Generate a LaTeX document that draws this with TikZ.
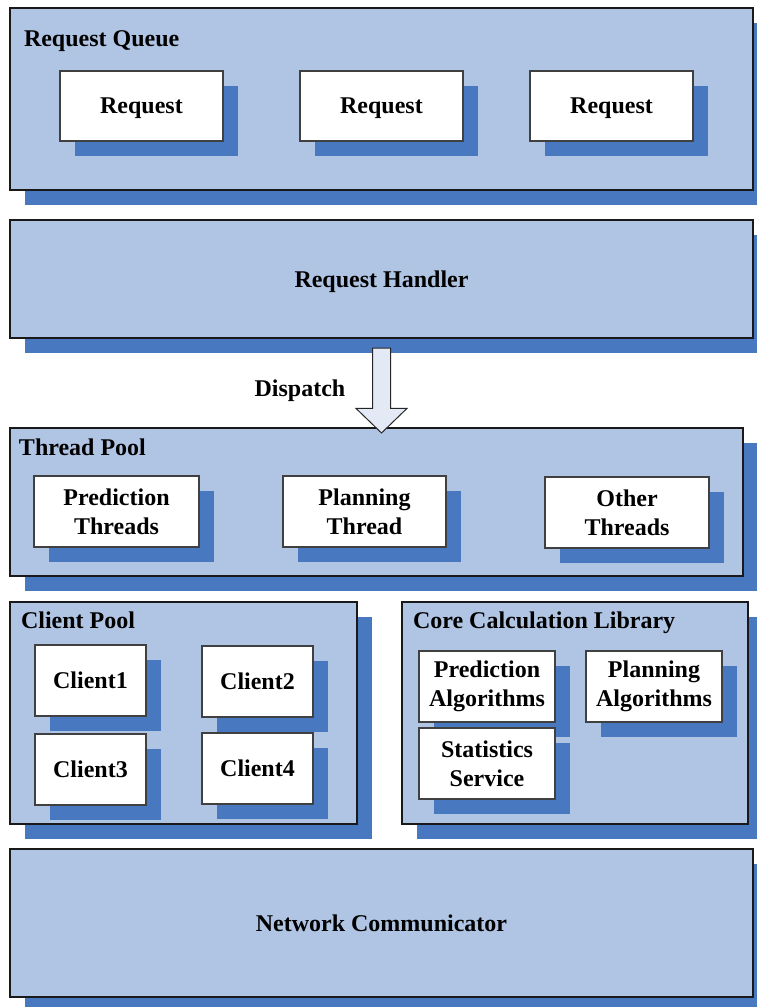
\documentclass[tikz,border=0pt]{standalone}
\usepackage{fontspec}
\setmainfont{Liberation Serif}
\usepackage{tikz}
\usepackage{xcolor}
\usetikzlibrary{shadows,shapes.arrows}
\definecolor{panel}{HTML}{B0C5E4}
\definecolor{shade}{HTML}{4878C0}
\definecolor{arrowfill}{HTML}{E4EAF5}

\begin{document}
\begin{tikzpicture}[x=1pt,y=-1pt,
    every node/.style={font=\fontsize{24}{29}\selectfont\bfseries,inner sep=0pt,outer sep=0pt},
    boxshadow/.style={general shadow={shadow xshift=15pt,shadow yshift=-15pt,fill=shade,draw=none}},
    layer/.style={draw=black!90,line width=1.2pt,fill=panel,boxshadow},
    item/.style={draw=black!75,line width=1.2pt,fill=white,boxshadow,align=center,minimum height=71pt}]
            \useasboundingbox (0,0) rectangle (757,1007);
            \clip (0,0) rectangle (757,1007);
            \node[layer,minimum width=743pt,minimum height=182pt] (queue) at (381.5,99) {};
            \node[anchor=base west] (queuetitle) at (24,46) {Request Queue};
            \node[item,minimum width=163pt,minimum height=70pt,text depth=0pt] (req1) at (141.5,106) {Request};
            \node[item,minimum width=163pt,minimum height=70pt,text depth=0pt] (req2) at (381.5,106) {Request};
            \node[item,minimum width=163pt,minimum height=70pt,text depth=0pt] (req3) at (611.5,106) {Request};
            \node[layer,minimum width=743pt,minimum height=118pt,text depth=0pt] (handler) at (381.5,279) {Request Handler};
            \node[layer,minimum width=733pt,minimum height=148pt] (pool) at (376.5,502) {};
            \node[anchor=base west] (pooltitle) at (19,455) {Thread Pool};
            \node[item,minimum width=165pt] (predthr) at (116.5,511.5) {Prediction\\Threads};
            \node[item,minimum width=163pt] (planthr) at (364.5,511.5) {Planning\\Thread};
            \node[item,minimum width=164pt] (oththr) at (627,512.5) {Other\\Threads};
            \node[draw=black!85,line width=1pt,fill=arrowfill,single arrow,rotate=-90,anchor=tip,
                minimum height=85pt,inner sep=8.5pt,single arrow head extend=16.5pt,
                single arrow tip angle=92] (dispatch) at (381.5,433) {};
            \node[text depth=0pt] (dispatchlabel) at (300,388) {Dispatch};
            \node[layer,minimum width=347pt,minimum height=222pt] (clients) at (183.5,713) {};
            \node[anchor=base west] (clientstitle) at (21,628) {Client Pool};
            \node[item,minimum width=111pt] (c1) at (90.5,680.5) {Client1};
            \node[item,minimum width=111pt] (c2) at (257.5,681.5) {Client2};
            \node[item,minimum width=111pt] (c3) at (90.5,769.5) {Client3};
            \node[item,minimum width=111pt] (c4) at (257.5,768.5) {Client4};
            \node[layer,minimum width=346pt,minimum height=222pt] (core) at (575,713) {};
            \node[anchor=base west] (coretitle) at (413,628) {Core Calculation Library};
            \node[item,minimum width=136pt] (predalg) at (487,686.5) {Prediction\\Algorithms};
            \node[item,minimum width=136pt] (planalg) at (654,686.5) {Planning\\Algorithms};
            \node[item,minimum width=136pt] (stats) at (487,763.5) {Statistics\\Service};
            \node[layer,minimum width=743pt,minimum height=148pt] (net) at (381.5,923) {Network Communicator};
        \end{tikzpicture}
\end{document}
